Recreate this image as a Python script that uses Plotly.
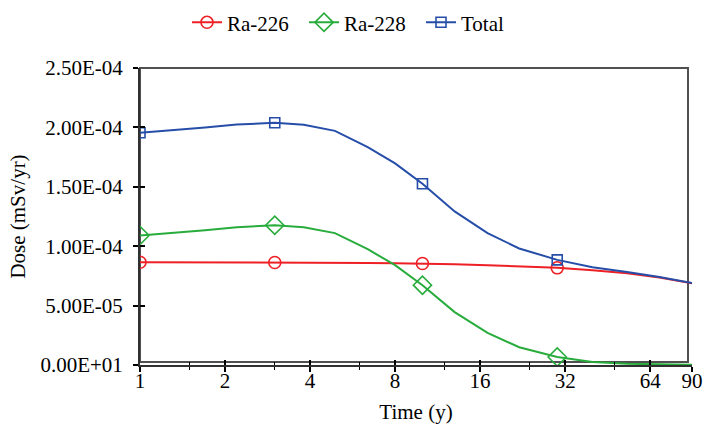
import plotly.graph_objects as go

# Time grid (years) and dose values (mSv/yr, in units of 1e-6)
time_y = [1, 1.3, 1.7, 2.2, 3, 3.8, 4.9, 6.4, 8, 10, 13, 17, 22, 30, 40, 53, 69, 90]
ra226 = [86.5, 86.5, 86.5, 86.4, 86.3, 86.2, 86.1, 85.9, 85.7, 85.4, 84.8, 84.0, 83.1, 81.8, 79.8, 77.3, 73.6, 68.8]
ra228 = [109.0, 111.0, 113.5, 116.0, 117.6, 116.0, 111.0, 97.5, 84.0, 67.2, 44.5, 27.0, 15.0, 6.7, 2.5, 1.0, 0.4, 0.2]
total = [195.5, 197.5, 200.0, 202.4, 203.9, 202.2, 197.1, 183.4, 169.7, 152.6, 129.3, 111.0, 98.1, 88.5, 82.3, 78.3, 74.0, 69.0]

# Years at which symbols are drawn on each curve
marker_times = [1, 3, 10, 30]

x_tickvals = [1, 2, 4, 8, 16, 32, 64, 90]
x_minor = [1.5, 3, 6, 12, 24, 48]
y_tickvals = [0, 5e-5, 1e-4, 1.5e-4, 2e-4, 2.5e-4]
y_ticktext = ["0.00E+01", "5.00E-05", "1.00E-04", "1.50E-04", "2.00E-04", "2.50E-04"]

series = [
    ("Ra-226", ra226, "rgb(238,32,38)", "circle-open", 12),
    ("Ra-228", ra228, "rgb(40,172,60)", "diamond-open", 14),
    ("Total", total, "rgb(38,78,168)", "square-open", 10),
]

FAMILY = "Liberation Serif"
FS = 21
def serif(size=FS):
    return dict(family=FAMILY, size=size, color="black")

fig = go.Figure()

for name, vals, color, symbol, size in series:
    ys = [v * 1e-6 for v in vals]
    mx = [t for t in time_y if t in marker_times]
    my = [ys[i] for i, t in enumerate(time_y) if t in marker_times]
    fig.add_trace(go.Scatter(x=time_y, y=ys, mode="lines", showlegend=False,
                             line=dict(color=color, width=2), hoverinfo="skip"))
    fig.add_trace(go.Scatter(x=mx, y=my, mode="markers", showlegend=False,
                             marker=dict(symbol=symbol, size=size, color=color,
                                         line=dict(color=color, width=1.6))))
    # legend entry combining line and symbol
    fig.add_trace(go.Scatter(x=[None], y=[None], mode="lines+markers", name=name,
                             line=dict(color=color, width=2),
                             marker=dict(symbol=symbol, size=size, color=color,
                                         line=dict(color=color, width=1.6))))

L, R, T, B = 140, 13, 67.5, 67
W, H = 705, 432
pw, ph = W - L - R, H - T - B

axis_common = dict(showgrid=False, zeroline=False)

fig.update_layout(
    width=W, height=H,
    margin=dict(l=L, r=R, t=T, b=B, autoexpand=False),
    paper_bgcolor="white", plot_bgcolor="white",
    font=serif(),
    xaxis=dict(type="log", range=[0, 1.954243], tickvals=x_tickvals,
               ticktext=[str(v) for v in x_tickvals],
               ticks="outside", ticklen=5, tickwidth=1.5, tickcolor="black",
               showline=True, linecolor="#303030", linewidth=2,
               minor=dict(tickmode="array", tickvals=x_minor, ticks="outside",
                          ticklen=3, tickwidth=1.2, tickcolor="black"),
               title=dict(text="Time (y)", standoff=12, font=serif()),
               tickfont=serif(), ticklabelstandoff=-9, **axis_common),
    xaxis2=dict(type="log", range=[0, 1.954243], overlaying="x", anchor="y",
                tickvals=x_tickvals, showticklabels=False,
                ticks="inside", ticklen=5, tickwidth=1.5, tickcolor="black",
                minor=dict(tickmode="array", tickvals=x_minor, ticks="inside",
                           ticklen=3, tickwidth=1.2, tickcolor="black"),
                **axis_common),
    yaxis=dict(range=[0, 2.5e-4], tickvals=y_tickvals, ticktext=y_ticktext,
               ticks="outside", ticklen=5, tickwidth=1.5, tickcolor="black",
               showline=True, linecolor="#303030", linewidth=2,
               title=dict(text="Dose (mSv/yr)", standoff=9, font=serif()),
               tickfont=serif(), ticklabelstandoff=6, **axis_common),
    yaxis2=dict(range=[0, 2.5e-4], overlaying="y", anchor="x", side="left",
                tickvals=y_tickvals, showticklabels=False,
                ticks="inside", ticklen=5, tickwidth=1.5, tickcolor="black",
                **axis_common),
    legend=dict(orientation="h", xref="container", yref="container",
                x=187 / W, xanchor="left", y=0.995, yanchor="top",
                font=serif(), entrywidth=72, entrywidthmode="pixels",
                tracegroupgap=0, bgcolor="rgba(0,0,0,0)"),
    shapes=[dict(type="rect", xref="paper", yref="paper",
                 x0=0, x1=(688 - L) / pw, y0=3 / ph, y1=1,
                 line=dict(color="#505050", width=2), layer="below")],
)

# a hidden trace keeps the overlay axes active
fig.add_trace(go.Scatter(x=[None], y=[None], xaxis="x2", yaxis="y2",
                         showlegend=False, hoverinfo="skip"))

fig.write_html("out.html")
